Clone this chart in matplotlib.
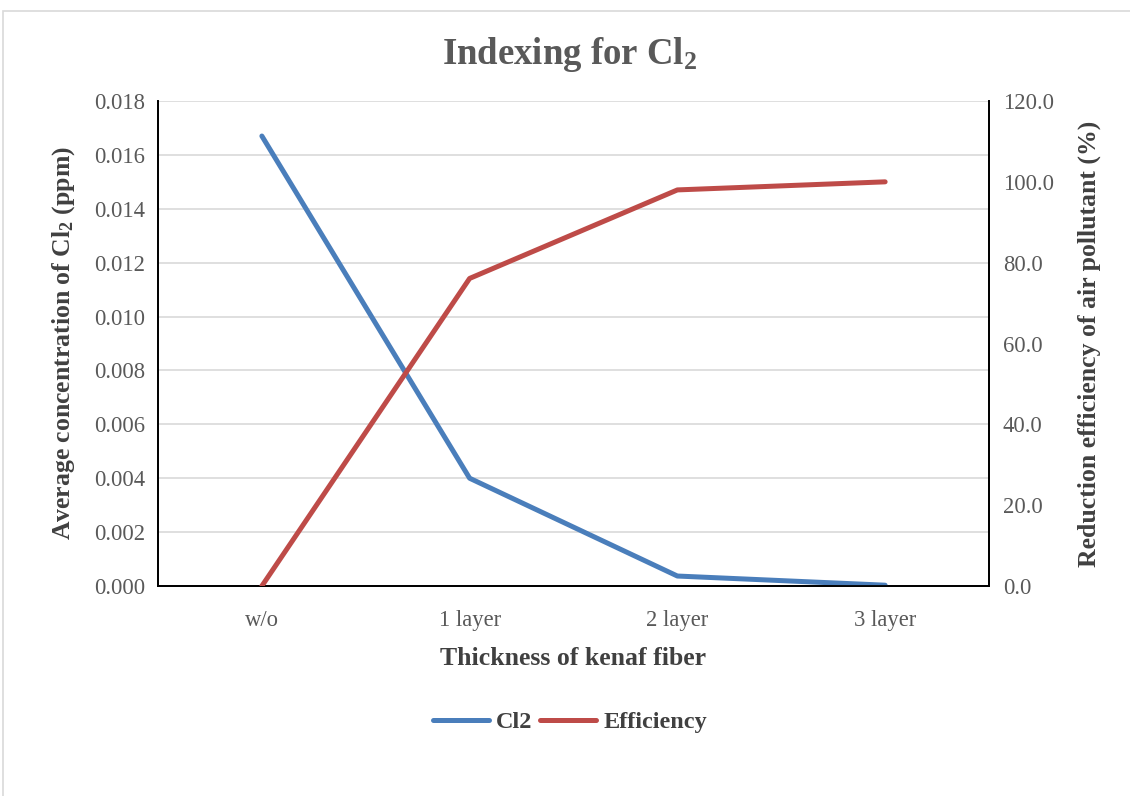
import matplotlib
matplotlib.use("Agg")
import matplotlib.pyplot as plt
from matplotlib.patches import Rectangle

categories = ["w/o", "1 layer", "2 layer", "3 layer"]
cl2_ppm = [0.0167, 0.0040, 0.00037, 0.00003]
efficiency = [0.0, 76.1, 98.0, 100.0]
left_ticks = [0.000, 0.002, 0.004, 0.006, 0.008, 0.010, 0.012, 0.014, 0.016, 0.018]
right_ticks = [0, 20, 40, 60, 80, 100, 120]

plt.rcParams['font.family'] = ['Liberation Serif', 'DejaVu Serif']
plt.rcParams['mathtext.fontset'] = 'custom'
plt.rcParams['mathtext.rm'] = 'Liberation Serif:bold'
plt.rcParams['mathtext.it'] = 'Liberation Serif:bold'
plt.rcParams['mathtext.bf'] = 'Liberation Serif:bold'
plt.rcParams['mathtext.default'] = 'rm'

gray = '#595959'
dark = '#404040'
blue = '#4a7ebb'
red = '#be4b48'

fig = plt.figure(figsize=(11.3, 7.96), dpi=100)
fig.patch.set_facecolor('white')
fig.add_artist(Rectangle((3/1130, -0.05), 1.2, 1 - 11/796 + 0.05, transform=fig.transFigure,
                         fill=False, edgecolor='#d9d9d9', linewidth=1.2))

ax = fig.add_axes([158/1130, 1 - 586/796, (989 - 158)/1130, (586 - 101)/796])
x = list(range(len(categories)))
l1, = ax.plot(x, cl2_ppm, color=blue, linewidth=3.6, solid_capstyle='round', label='Cl2', zorder=3)
ax.set_xlim(-0.5, len(categories) - 0.5)
ax.set_ylim(0, 0.018)
ax.set_yticks(left_ticks)
ax.set_yticklabels([f"{v:.3f}" for v in left_ticks])
ax.set_xticks(x)
ax.set_xticklabels(categories)
ax.grid(axis='y', color='#d9d9d9', linewidth=1.2)
ax.set_axisbelow(True)
ax.tick_params(axis='y', length=0, labelsize=16.3, colors=gray, pad=9.5)
ax.tick_params(axis='x', length=0, labelsize=16.3, colors=gray, pad=17)
ax.spines['top'].set_visible(False)
for s in ['left', 'right', 'bottom']:
    ax.spines[s].set_color('black')
    ax.spines[s].set_linewidth(1.3)
ax.set_xlabel("Thickness of kenaf fiber", fontsize=18.5, fontweight='bold', color=dark, labelpad=12)
ax.set_ylabel(r"Average concentration of Cl$_2$ (ppm)", fontsize=18.5, fontweight='bold', color=dark, labelpad=12)

ax2 = ax.twinx()
l2, = ax2.plot(x, efficiency, color=red, linewidth=3.6, solid_capstyle='round', label='Efficiency', zorder=3)
ax2.set_ylim(0, 120)
ax2.set_yticks(right_ticks)
ax2.set_yticklabels([f"{v:.1f}" for v in right_ticks])
ax2.tick_params(axis='y', length=0, labelsize=16.3, colors=gray, pad=10)
ax2.spines['top'].set_visible(False)
for s in ['left', 'right', 'bottom']:
    ax2.spines[s].set_color('black')
    ax2.spines[s].set_linewidth(1.3)
ax2.set_ylabel("Reduction efficiency of air pollutant (%)", fontsize=18.5, fontweight='bold', color=dark, labelpad=17)

fig.text(570/1130, 1 - 55/796, r"Indexing for Cl$_2$", fontsize=26.5, fontweight='bold', color=gray,
         ha='center', va='center')

leg = fig.legend(handles=[l1, l2], loc='center', bbox_to_anchor=(570/1130, 1 - 722/796), ncol=2,
                 frameon=False, prop={'weight': 'bold', 'size': 17.5}, handlelength=2.3,
                 handletextpad=0.3, columnspacing=0.3)
for t in leg.get_texts():
    t.set_color(dark)

fig.savefig("out.png", dpi=100, facecolor='white')
